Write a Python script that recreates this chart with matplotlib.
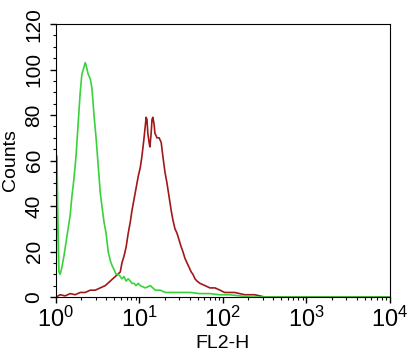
"""
Flow cytometry histogram: FL2-H, isotype control (green) vs stained (red)
"""
import matplotlib
matplotlib.use("Agg")
import matplotlib.pyplot as plt
from matplotlib.ticker import MultipleLocator, LogLocator, NullFormatter, FixedFormatter
import numpy as np

# green (control) histogram, x in decades (log10 FL2-H)
green_log = [0.0, 0.012, 0.02, 0.035, 0.05, 0.07, 0.095, 0.12, 0.145, 0.17, 0.19,
             0.215, 0.24, 0.265, 0.29, 0.31, 0.335, 0.35, 0.36, 0.385, 0.41, 0.43,
             0.455, 0.48, 0.505, 0.53, 0.55, 0.575, 0.6, 0.625, 0.65, 0.67, 0.695,
             0.72, 0.745, 0.77, 0.79, 0.815, 0.84, 0.865, 0.89, 0.91, 0.935, 0.96,
             0.985, 1.01, 1.07, 1.13, 1.19, 1.25, 1.31, 1.37, 1.49, 1.61, 1.72,
             1.84, 1.96, 2.08, 2.2, 2.32, 4.0]
green_counts = [0, 62, 40, 11, 10, 13, 18, 24, 30, 36, 44,
                52, 62, 76, 90, 98, 101, 103, 102, 98, 96, 92,
                80, 70, 58, 46, 40, 33, 28, 20, 16, 14, 12,
                10, 10, 9, 8, 9, 7, 8, 7, 6, 6, 5,
                6, 5, 4, 5, 3, 3, 2, 2, 2, 2, 1.5,
                1.5, 1, 1, 0.5, 0, 0]

# red (stained) histogram
red_log = [0.0, 0.05, 0.11, 0.17, 0.23, 0.29, 0.35, 0.41, 0.47, 0.53, 0.59,
           0.65, 0.71, 0.74, 0.77, 0.79, 0.815, 0.84, 0.865, 0.89, 0.91, 0.935,
           0.96, 0.985, 1.01, 1.03, 1.055, 1.08, 1.09, 1.1, 1.115, 1.125, 1.14,
           1.15, 1.16, 1.175, 1.185, 1.21, 1.235, 1.26, 1.28, 1.305, 1.33, 1.355,
           1.38, 1.4, 1.425, 1.45, 1.475, 1.5, 1.52, 1.545, 1.57, 1.595, 1.62,
           1.64, 1.665, 1.69, 1.725, 1.785, 1.845, 1.905, 1.965, 2.02, 2.08, 2.14,
           2.2, 2.26, 2.32, 2.38, 2.44, 2.5, 4.0]
red_counts = [0, 1, 0.5, 1.5, 1, 2, 2, 3, 3, 4, 5,
              7, 9, 10, 11, 15, 18, 22, 28, 33, 38, 43,
              48, 53, 57, 62, 70, 79, 78, 72, 68, 66, 72,
              78, 79, 76, 72, 70, 70, 68, 62, 55, 50, 44,
              38, 34, 30, 28, 25, 22, 20, 17, 15, 13, 11,
              10, 8, 7, 6, 5, 4, 4, 3, 2, 2, 2,
              1.5, 1, 1, 1, 0.5, 0, 0]

x_ticks = [1, 10, 100, 1000, 10000]
x_labels = [r'$\mathregular{10^{0}}$', r'$\mathregular{10^{1}}$', r'$\mathregular{10^{2}}$',
            r'$\mathregular{10^{3}}$', r'$\mathregular{10^{4}}$']

plt.rcParams['font.family'] = ['Liberation Sans', 'DejaVu Sans']
plt.rcParams['mathtext.fontset'] = 'custom'
plt.rcParams['mathtext.rm'] = 'Liberation Sans'

fig = plt.figure(figsize=(4.13, 3.54), dpi=100)
ax = fig.add_axes([0.1356, 0.161, 0.8084, 0.771])

ax.plot(10 ** np.array(red_log), red_counts, color='#a01818', lw=1.2)
ax.plot(10 ** np.array(green_log), green_counts, color='#3ad23a', lw=1.2)

ax.set_xscale('log')
ax.set_xlim(1, 1e4)
ax.set_ylim(0, 120)
ax.set_xticks(x_ticks)
ax.xaxis.set_major_formatter(FixedFormatter(x_labels))
ax.xaxis.set_minor_locator(LogLocator(base=10, subs=np.arange(2, 10), numticks=10))
ax.xaxis.set_minor_formatter(NullFormatter())
ax.yaxis.set_major_locator(MultipleLocator(20))
ax.yaxis.set_minor_locator(MultipleLocator(5))

ax.tick_params(axis='x', which='major', direction='out', length=4, width=1,
               labelsize=17, pad=3)
ax.tick_params(axis='y', which='major', direction='out', length=4, width=1,
               labelsize=15, pad=5)
ax.tick_params(axis='both', which='minor', direction='out', length=2.5, width=0.8)
for lab in ax.get_yticklabels():
    lab.set_rotation(90)
    lab.set_va('center')

ax.set_xlabel('FL2-H', fontsize=14, labelpad=2)
ax.set_ylabel('Counts', fontsize=14, labelpad=4)

fig.savefig('out.png', dpi=100)
